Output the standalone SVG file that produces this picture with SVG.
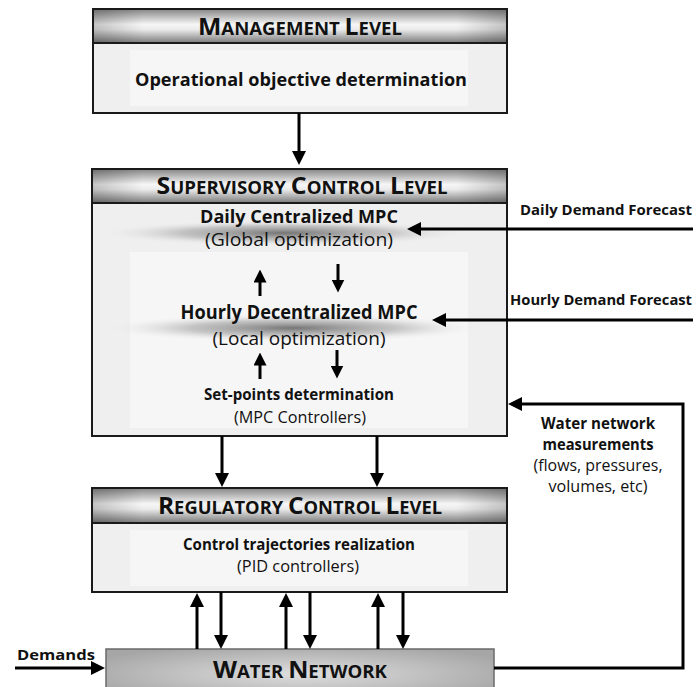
<svg xmlns="http://www.w3.org/2000/svg" width="698" height="687" viewBox="0 0 698 687">
<defs>
  <linearGradient id="hdr" x1="0" y1="0" x2="0" y2="1">
    <stop offset="0" stop-color="#858585"/>
    <stop offset="0.45" stop-color="#f6f6f6"/>
    <stop offset="0.6" stop-color="#ebebeb"/>
    <stop offset="1" stop-color="#7a7a7a"/>
  </linearGradient>
  <linearGradient id="hdrSide" x1="0" y1="0" x2="1" y2="0">
    <stop offset="0" stop-color="#000" stop-opacity="0.2"/>
    <stop offset="0.12" stop-color="#000" stop-opacity="0"/>
    <stop offset="0.88" stop-color="#000" stop-opacity="0"/>
    <stop offset="1" stop-color="#000" stop-opacity="0.2"/>
  </linearGradient>
  <radialGradient id="wn" cx="0.5" cy="0.5" r="0.6">
    <stop offset="0" stop-color="#dedede"/>
    <stop offset="1" stop-color="#a6a6a6"/>
  </radialGradient>
  <radialGradient id="shadow" cx="0.5" cy="0.5" r="0.5">
    <stop offset="0" stop-color="#5e5e5e" stop-opacity="0.85"/>
    <stop offset="0.55" stop-color="#8a8a8a" stop-opacity="0.45"/>
    <stop offset="1" stop-color="#f0f0f0" stop-opacity="0"/>
  </radialGradient>
  <marker id="ah" markerUnits="userSpaceOnUse" markerWidth="14" markerHeight="14" refX="7" refY="7" orient="auto">
    <path d="M0,0 L14,7 L0,14 Z" fill="#000"/>
  </marker>
  <marker id="ahs" markerUnits="userSpaceOnUse" markerWidth="13" markerHeight="13" refX="6.5" refY="6.5" orient="auto">
    <path d="M0,0 L13,6.5 L0,13 Z" fill="#000"/>
  </marker>
</defs>
<style>
  .box { fill: #efefef; stroke: #1a1a1a; stroke-width: 2; }
  .inner { fill: #f6f6f6; }
  .hdr { fill: url(#hdr); stroke: #1a1a1a; stroke-width: 2; }
  .hdrside { fill: url(#hdrSide); }
  text { font-family: "Open Sans", "Liberation Sans", sans-serif; fill: #111; }
  .b { font-weight: bold; }
  .cap { font-weight: bold; font-size: 24px; }
  .sc { font-size: 18px; }
  .c { text-anchor: middle; }
  .e { text-anchor: end; }
  .con { stroke: #000; stroke-width: 3; fill: none; }
  .a { marker-end: url(#ah); }
  .as { marker-end: url(#ahs); }
</style>

<g id="management">
  <rect class="box" x="93" y="9" width="414" height="104"/>
  <rect class="inner" x="130" y="50" width="338" height="56"/>
  <rect class="hdr" x="93" y="9" width="414" height="34"/>
  <rect class="hdrside" x="94" y="10" width="412" height="32"/>
  <text class="cap c" x="300" y="35" textLength="204" lengthAdjust="spacingAndGlyphs">M<tspan class="sc">ANAGEMENT </tspan>L<tspan class="sc">EVEL</tspan></text>
  <text class="b c" x="301" y="86" font-size="18.5" textLength="332" lengthAdjust="spacingAndGlyphs">Operational objective determination</text>
</g>

<g id="supervisory">
  <rect class="box" x="92" y="169" width="415" height="267"/>
  <rect class="inner" x="130" y="252" width="338" height="176"/>
  <ellipse cx="284" cy="233" rx="185" ry="13" fill="url(#shadow)"/>
  <ellipse cx="293" cy="328" rx="190" ry="14" fill="url(#shadow)"/>
  <rect class="hdr" x="92" y="169" width="415" height="34"/>
  <rect class="hdrside" x="93" y="170" width="413" height="32"/>
  <text class="cap c" x="302" y="194" textLength="291" lengthAdjust="spacingAndGlyphs">S<tspan class="sc">UPERVISORY </tspan>C<tspan class="sc">ONTROL </tspan>L<tspan class="sc">EVEL</tspan></text>
  <text class="b c" x="299" y="223" font-size="17" textLength="198" lengthAdjust="spacingAndGlyphs">Daily Centralized MPC</text>
  <text class="c" x="299" y="246" font-size="17.5" textLength="188" lengthAdjust="spacingAndGlyphs">(Global optimization)</text>
  <text class="b c" x="299" y="319" font-size="19" textLength="237" lengthAdjust="spacingAndGlyphs">Hourly Decentralized MPC</text>
  <text class="c" x="299" y="345" font-size="19" textLength="173" lengthAdjust="spacingAndGlyphs">(Local optimization)</text>
  <text class="b c" x="299" y="400" font-size="16" textLength="190" lengthAdjust="spacingAndGlyphs">Set-points determination</text>
  <text class="c" x="300" y="423" font-size="15.5" textLength="132" lengthAdjust="spacingAndGlyphs">(MPC Controllers)</text>
</g>

<g id="regulatory">
  <rect class="box" x="92" y="488" width="415" height="104"/>
  <rect class="inner" x="130" y="530" width="338" height="56"/>
  <rect class="hdr" x="92" y="488" width="415" height="35"/>
  <rect class="hdrside" x="93" y="489" width="413" height="33"/>
  <text class="cap c" x="300" y="514" textLength="284" lengthAdjust="spacingAndGlyphs">R<tspan class="sc">EGULATORY </tspan>C<tspan class="sc">ONTROL </tspan>L<tspan class="sc">EVEL</tspan></text>
  <text class="b c" x="299" y="550" font-size="16" textLength="232" lengthAdjust="spacingAndGlyphs">Control trajectories realization</text>
  <text class="c" x="298" y="572" font-size="15.5" textLength="122" lengthAdjust="spacingAndGlyphs">(PID controllers)</text>
</g>

<g id="water-network">
  <rect x="106" y="649" width="388" height="50" fill="url(#wn)" stroke="#6a6a6a" stroke-width="1.5"/>
  <text class="cap c" x="300" y="678" textLength="174" lengthAdjust="spacingAndGlyphs">W<tspan class="sc">ATER </tspan>N<tspan class="sc">ETWORK</tspan></text>
</g>

<g id="labels">
  <text class="b e" x="692" y="215" font-size="14.5" textLength="172" lengthAdjust="spacingAndGlyphs">Daily Demand Forecast</text>
  <text class="b e" x="692" y="305" font-size="14" textLength="182" lengthAdjust="spacingAndGlyphs">Hourly Demand Forecast</text>
  <text class="b c" x="598" y="429" font-size="16" textLength="114" lengthAdjust="spacingAndGlyphs">Water network</text>
  <text class="b c" x="598" y="450" font-size="16" textLength="111" lengthAdjust="spacingAndGlyphs">measurements</text>
  <text class="c" x="598" y="471" font-size="15.5" textLength="129" lengthAdjust="spacingAndGlyphs">(flows, pressures,</text>
  <text class="c" x="598" y="492" font-size="15.5" textLength="99" lengthAdjust="spacingAndGlyphs">volumes, etc)</text>
  <text class="b" x="17" y="660" font-size="14.5" textLength="78" lengthAdjust="spacingAndGlyphs">Demands</text>
</g>

<g id="connectors">
  <line class="con a" x1="299" y1="113" x2="299" y2="158"/>
  <line class="con as" x1="260" y1="296" x2="260" y2="276"/>
  <line class="con as" x1="338" y1="264" x2="338" y2="286"/>
  <line class="con as" x1="260" y1="379" x2="260" y2="359"/>
  <line class="con as" x1="337" y1="350" x2="337" y2="372"/>
  <line class="con a" x1="222" y1="436" x2="222" y2="480"/>
  <line class="con a" x1="377" y1="436" x2="377" y2="480"/>
  <line class="con a" x1="197" y1="649" x2="197" y2="600"/>
  <line class="con a" x1="221" y1="592" x2="221" y2="642"/>
  <line class="con a" x1="286" y1="649" x2="286" y2="600"/>
  <line class="con a" x1="310" y1="592" x2="310" y2="642"/>
  <line class="con a" x1="378" y1="649" x2="378" y2="600"/>
  <line class="con a" x1="403" y1="592" x2="403" y2="642"/>
  <line class="con a" x1="693" y1="229" x2="414" y2="229"/>
  <line class="con a" x1="693" y1="320" x2="439" y2="320"/>
  <polyline class="con a" points="494,668 683,668 683,404 515,404"/>
  <line class="con a" x1="15" y1="668" x2="98" y2="668"/>
</g>
</svg>
